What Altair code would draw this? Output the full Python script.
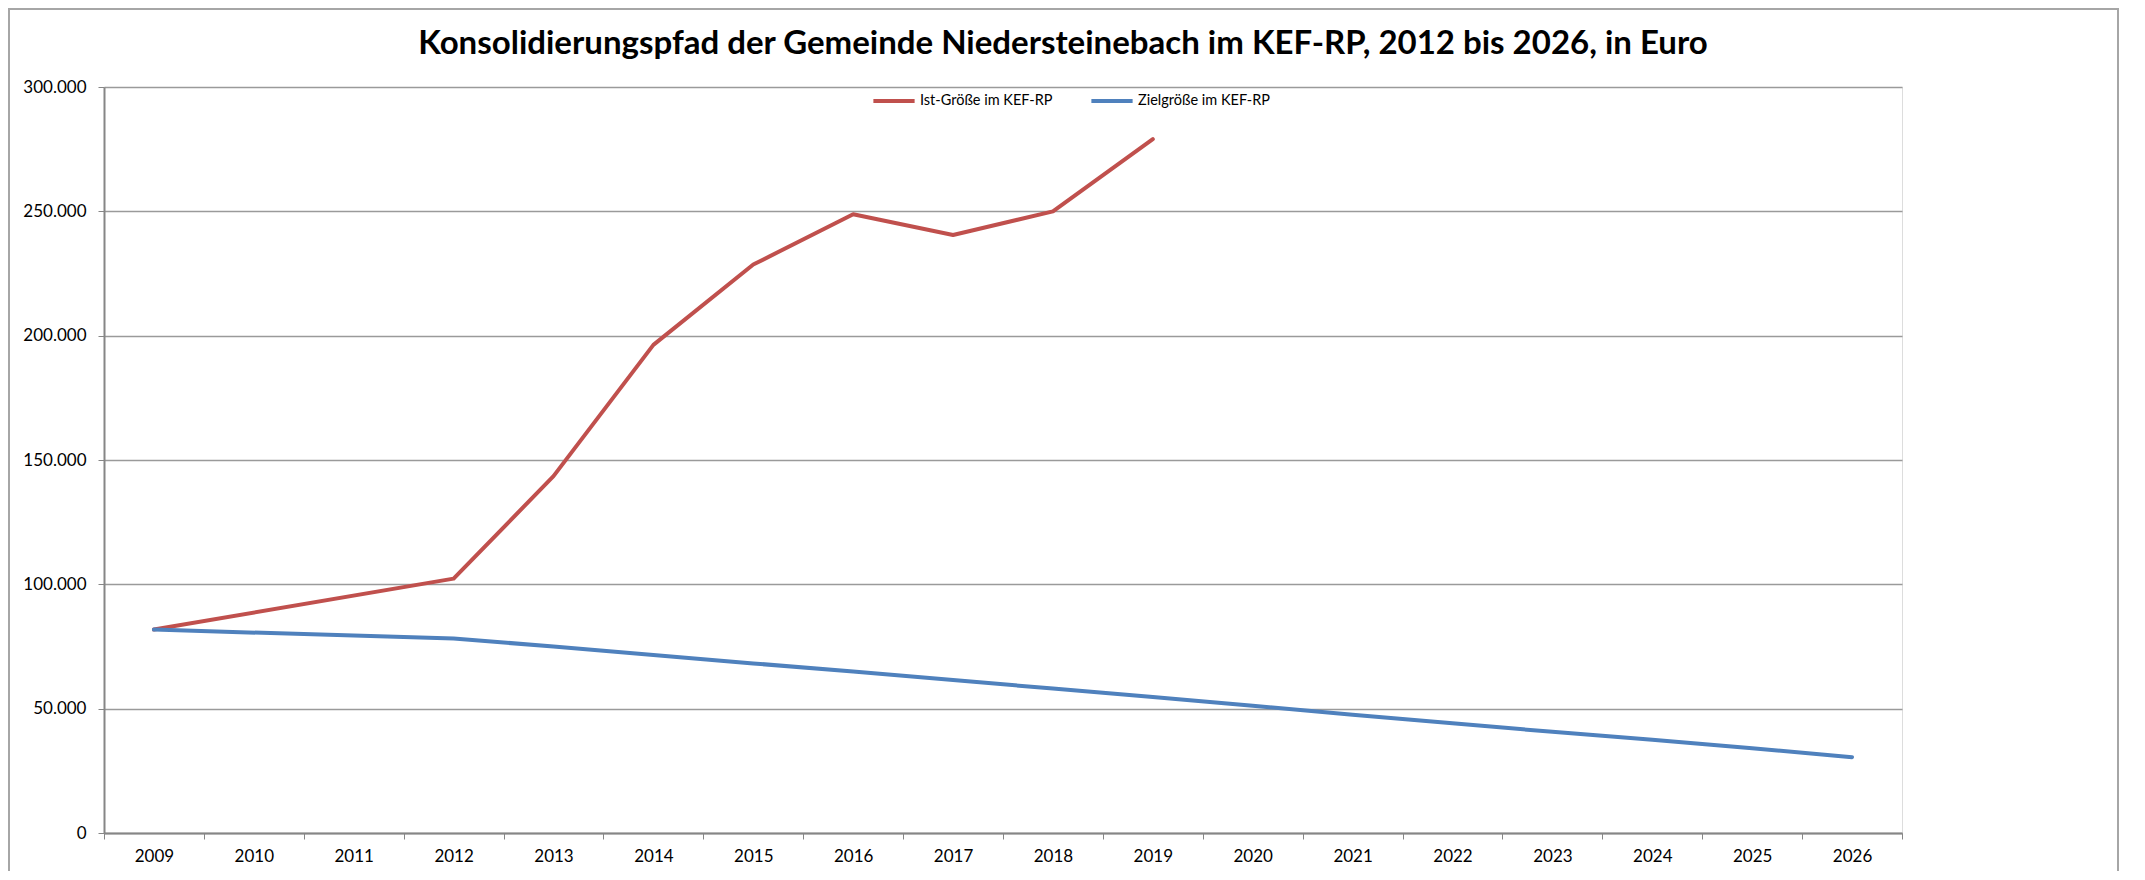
import altair as alt
import pandas as pd

years = list(range(2009, 2027))
ist = [81800, None, None, 102300, 143500, 196300, 228600, 248800, 240500, 250000, 279000,
       None, None, None, None, None, None, None]
ziel = [81800, None, None, 78200, 75000, 71600, 68200, 64900, 61500, 58100, 54700,
        51200, 47600, 44100, 40700, 37500, 34100, 30500]
series_names = ["Ist-Größe im KEF-RP", "Zielgröße im KEF-RP"]
series_colors = ["#C0504D", "#4F81BD"]
title_text = "Konsolidierungspfad der Gemeinde Niedersteinebach im KEF-RP, 2012 bis 2026, in Euro"
y_ticks = [0, 50000, 100000, 150000, 200000, 250000, 300000]

rows = []
for name, vals in zip(series_names, [ist, ziel]):
    for y, v in zip(years, vals):
        if v is not None:
            rows.append({"Jahr": str(y), "Wert": v, "Reihe": name})
df = pd.DataFrame(rows)

FONT = "Lato"
W, H = 1798, 746

lines = alt.Chart(df).mark_line(strokeWidth=4, strokeJoin="round", strokeCap="round").encode(
    x=alt.X("Jahr:O", bandPosition=0.5,
            scale=alt.Scale(type="band", paddingInner=0, paddingOuter=0,
                            domain=[str(y) for y in years]),
            axis=alt.Axis(title=None, tickBand="extent", labelAngle=0, grid=False,
                          domainColor="#868686", domainWidth=2, tickColor="#868686",
                          tickWidth=1, tickSize=6, labelPadding=9, labelFontSize=17,
                          labelFont=FONT, labelColor="#000000")),
    y=alt.Y("Wert:Q",
            scale=alt.Scale(domain=[0, 300000], nice=False, zero=True),
            axis=alt.Axis(title=None, values=y_ticks, grid=True, gridColor="#9a9a9a",
                          gridWidth=1.5, domainColor="#868686", domainWidth=2,
                          tickColor="#868686", tickSize=6, tickWidth=1, labelPadding=12,
                          labelFontSize=17, labelFont=FONT, labelColor="#000000",
                          labelExpr="replace(format(datum.value, ','), ',', '.')")),
    color=alt.Color("Reihe:N",
                    scale=alt.Scale(domain=series_names, range=series_colors),
                    legend=alt.Legend(title=None, orient="none", legendX=767, legendY=-9,
                                      direction="horizontal", symbolType="stroke",
                                      symbolSize=1700, symbolStrokeWidth=4,
                                      labelFont=FONT, labelFontSize=14.5, labelColor="#000000",
                                      labelOffset=3, columnPadding=30, padding=0)),
)

title = alt.Chart(pd.DataFrame({"t": [title_text]})).mark_text(
    font=FONT, fontSize=33, fontWeight="bold", align="center", baseline="middle", color="#000000"
).encode(text="t:N", x=alt.value(959), y=alt.value(-43))

frame = alt.Chart(pd.DataFrame({"a": [0]})).mark_rect(
    fill=None, stroke="#a6a6a6", strokeWidth=2
).encode(x=alt.value(-95), x2=alt.value(2014), y=alt.value(-78), y2=alt.value(900))

chart = alt.layer(frame, lines, title).properties(
    width=W, height=H,
    autosize=alt.AutoSizeParams(type="none"),
    padding={"left": 96, "top": 79, "right": 225, "bottom": 38},
).configure_view(stroke=None).configure(background="white")

chart.save("out.html", embed_options={"renderer": "svg", "actions": False})
